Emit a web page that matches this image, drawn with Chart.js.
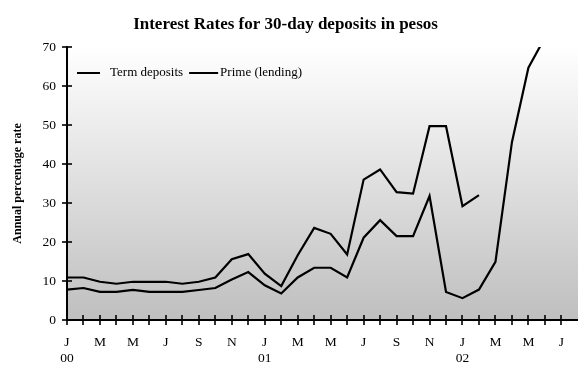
<!DOCTYPE html>
<html>
<head>
<meta charset="utf-8">
<script src="https://cdn.jsdelivr.net/npm/chart.js@4/dist/chart.umd.min.js"></script>
<style>
  html, body { margin: 0; padding: 0; background: #fff; }
  #wrap { width: 578px; height: 365px; position: relative; }
</style>
</head>
<body>
<div id="wrap"><canvas id="c" width="578" height="365"></canvas></div>
<script>
// Months Jan 2000 .. Jul 2002
const categories = [
  'Jan 00','Feb 00','Mar 00','Apr 00','May 00','Jun 00','Jul 00','Aug 00','Sep 00','Oct 00','Nov 00','Dec 00',
  'Jan 01','Feb 01','Mar 01','Apr 01','May 01','Jun 01','Jul 01','Aug 01','Sep 01','Oct 01','Nov 01','Dec 01',
  'Jan 02','Feb 02','Mar 02','Apr 02','May 02','Jun 02','Jul 02'
];
const monthTickLabels = [
  'J','','M','','M','','J','','S','','N','',
  'J','','M','','M','','J','','S','','N','',
  'J','','M','','M','','J'
];
const yearTickLabels = [
  '00','','','','','','','','','','','',
  '01','','','','','','','','','','','',
  '02','','','','','',''
];
const termDeposits = [
  7.8, 8.2, 7.2, 7.2, 7.7, 7.2, 7.2, 7.2, 7.7, 8.2, 10.4, 12.3,
  8.9, 6.8, 10.9, 13.4, 13.4, 10.9, 21.1, 25.6, 21.5, 21.5, 31.8, 7.2,
  5.6, 7.8, 14.9, 45.6, 64.7, 72.4, null
];
const primeLending = [
  10.9, 10.9, 9.8, 9.3, 9.8, 9.8, 9.8, 9.3, 9.8, 10.9, 15.6, 16.9,
  11.9, 8.7, 16.6, 23.6, 22.1, 16.8, 36.0, 38.6, 32.8, 32.4, 49.7, 49.7,
  29.2, 32.0, null, null, null, null, null
];
const yTicks = [0, 10, 20, 30, 40, 50, 60, 70];

const SERIF = "'Liberation Serif', 'DejaVu Serif', serif";

const decor = {
  id: 'decor',
  beforeDraw(chart) {
    const {ctx, chartArea: a, width} = chart;
    const g = ctx.createLinearGradient(0, a.top, 0, a.bottom);
    g.addColorStop(0, '#ffffff');
    g.addColorStop(1, '#bfbfbf');
    ctx.save();
    ctx.fillStyle = g;
    ctx.fillRect(a.left, a.top, width - a.left, a.bottom - a.top);
    ctx.restore();
  },
  afterDraw(chart) {
    const {ctx, chartArea: a, width} = chart;
    const xs = chart.scales.x, ys = chart.scales.y;
    ctx.save();
    ctx.strokeStyle = '#000';
    ctx.lineWidth = 2;
    // extend x axis line to the right edge
    ctx.beginPath();
    ctx.moveTo(a.left, a.bottom);
    ctx.lineTo(width, a.bottom);
    ctx.stroke();
    // cross ticks on x axis
    ctx.lineWidth = 1.6;
    xs.ticks.forEach((t, i) => {
      const x = Math.round(xs.getPixelForTick(i));
      ctx.beginPath();
      ctx.moveTo(x, a.bottom - 5);
      ctx.lineTo(x, a.bottom + 5);
      ctx.stroke();
    });
    // cross ticks on y axis
    ys.ticks.forEach((t, i) => {
      const y = Math.round(ys.getPixelForTick(i));
      ctx.beginPath();
      ctx.moveTo(a.left - 5, y);
      ctx.lineTo(a.left + 5, y);
      ctx.stroke();
    });
    // legend inside plot area
    const ly = 73;
    let lx = 77;
    ctx.font = '13px ' + SERIF;
    ctx.fillStyle = '#000';
    ctx.textBaseline = 'middle';
    ctx.textAlign = 'left';
    const segs = [[23, 10], [29, 2]];
    chart.data.datasets.forEach((ds, i) => {
      ctx.lineWidth = 2;
      ctx.strokeStyle = ds.borderColor;
      ctx.beginPath();
      ctx.moveTo(lx, ly);
      ctx.lineTo(lx + segs[i][0], ly);
      ctx.stroke();
      lx += segs[i][0] + segs[i][1];
      ctx.fillText(ds.label, lx, ly);
      lx += ctx.measureText(ds.label).width + 6;
    });
    ctx.restore();
  }
};

new Chart(document.getElementById('c'), {
  type: 'line',
  data: {
    labels: categories,
    datasets: [
      { label: 'Term deposits', data: termDeposits, borderColor: '#000', borderWidth: 2.2,
        pointRadius: 0, tension: 0, spanGaps: false, fill: false },
      { label: 'Prime (lending)', data: primeLending, borderColor: '#000', borderWidth: 2.2,
        pointRadius: 0, tension: 0, spanGaps: false, fill: false }
    ]
  },
  options: {
    responsive: false,
    animation: false,
    events: [],
    layout: { padding: { left: 0, right: 7, top: 0, bottom: 0 } },
    plugins: {
      legend: { display: false },
      tooltip: { enabled: false },
      title: {
        display: true,
        text: 'Interest Rates for 30-day deposits in pesos',
        color: '#000',
        font: { family: SERIF, size: 17, weight: 'bold', lineHeight: 1.2 },
        padding: { top: 14, bottom: 12.6 }
      }
    },
    scales: {
      x: {
        type: 'category',
        offset: false,
        grid: { display: false, drawTicks: false },
        border: { display: true, color: '#000', width: 2 },
        ticks: {
          autoSkip: false, maxRotation: 0, minRotation: 0, padding: 14,
          color: '#000',
          font: { family: SERIF, size: 13.5, lineHeight: 1.2 },
          callback: (v, i) => yearTickLabels[i] ? [monthTickLabels[i], yearTickLabels[i]] : monthTickLabels[i]
        },
        afterFit: (s) => { s.height = 45; }
      },
      y: {
        min: 0, max: 70,
        afterBuildTicks: (s) => { s.ticks = yTicks.map(v => ({ value: v })); },
        grid: { display: false, drawTicks: false },
        border: { display: true, color: '#000', width: 2 },
        ticks: {
          padding: 11, color: '#000',
          font: { family: SERIF, size: 13.5 }
        },
        title: {
          display: true,
          text: 'Annual percentage rate',
          color: '#000',
          font: { family: SERIF, size: 12, weight: 'bold', lineHeight: 1.2 },
          padding: { top: 10.5, bottom: 0 }
        },
        afterFit: (s) => { s.width = 67; }
      }
    }
  },
  plugins: [decor]
});
</script>
</body>
</html>
